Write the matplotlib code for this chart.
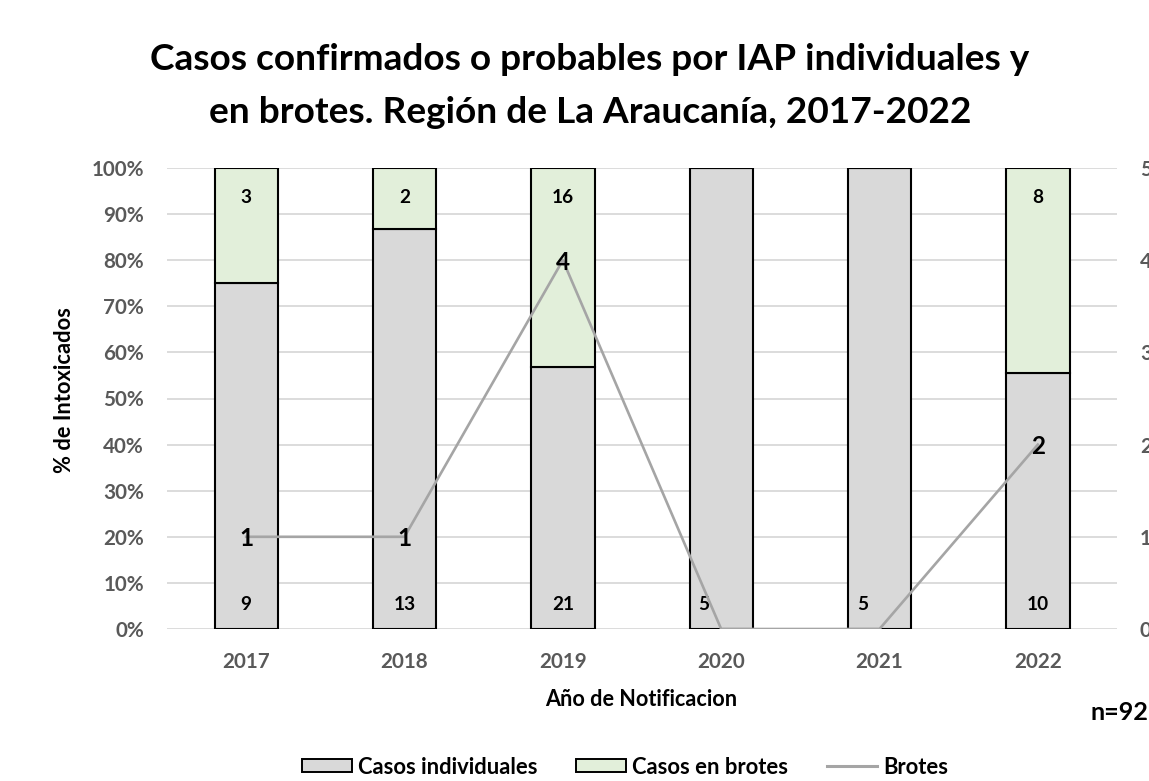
import matplotlib
matplotlib.use("Agg")
import matplotlib.pyplot as plt
from matplotlib.patches import Patch
from matplotlib.lines import Line2D
import numpy as np

years = ["2017", "2018", "2019", "2020", "2021", "2022"]
individuales = [9, 13, 21, 5, 5, 10]
en_brotes = [3, 2, 16, 0, 0, 8]
brotes = [1, 1, 4, 0, 0, 2]
title_lines = ["Casos confirmados o probables por IAP individuales y",
               "en brotes. Región de La Araucanía, 2017-2022"]

FONT = "Lato"
plt.rcParams["font.family"] = [FONT, "DejaVu Sans"]

W, H = 1149, 781
DPI = 100
PT = 72.0 / DPI  # points per pixel
fig = plt.figure(figsize=(W / DPI, H / DPI), dpi=DPI)
renderer = fig.canvas.get_renderer()


def width_px(s, size, weight="bold"):
    t = fig.text(0, 0, s, fontsize=size, fontweight=weight)
    w = t.get_window_extent(renderer).width
    t.remove()
    return w


def fit(s, target, weight="bold"):
    return 20.0 * target / width_px(s, 20.0, weight)


fs_ytick = fit("100%", 53)
fs_xtick = fit("2017", 48)
fs_bar = fit("13", 22)
fs_line = 17.5
fs_n = fit("n=92", 58)
fs_ylab = fit("% de Intoxicados", 166)
fs_xlab = fit("Año de Notificacion", 192)
fs_leg = fit("Casos individuales", 180)
fs_title = fit(title_lines[0], 878)
title_cx = 590

ax = fig.add_axes([167 / W, 152 / H, 950 / W, 461 / H])

ind = np.array(individuales, float)
br = np.array(en_brotes, float)
tot = ind + br
p_ind = ind / tot * 100
p_br = br / tot * 100
x = np.arange(len(years))

c_ind = "#d9d9d9"
c_br = "#e2efda"
c_line = "#a5a5a5"
tick_col = "#595959"

ax.bar(x, p_ind, width=0.4, color=c_ind, edgecolor="black", linewidth=1.5, zorder=2)
ax.bar(x, p_br, width=0.4, bottom=p_ind, color=c_br, edgecolor="black", linewidth=1.5, zorder=2)

ax.set_xlim(-0.5, len(years) - 0.5)
ax.set_ylim(0, 100)
ax.set_yticks(np.arange(0, 101, 10))
ax.set_yticklabels([f"{v}%" for v in range(0, 101, 10)])
ax.set_xticks(x)
ax.set_xticklabels(years)
ax.grid(axis="y", color="#d9d9d9", linewidth=1.3, zorder=0)
ax.set_axisbelow(True)
for s in ax.spines.values():
    s.set_visible(False)
ax.tick_params(axis="y", length=0, labelsize=fs_ytick, labelcolor=tick_col, pad=23 * PT)
ax.tick_params(axis="x", length=0, labelsize=fs_xtick, labelcolor=tick_col, pad=39 * PT)
for lab in ax.get_xticklabels():
    lab.set_fontweight("bold")
    lab.set_verticalalignment("baseline")
for lab in ax.get_yticklabels():
    lab.set_fontweight("bold")

ax.set_ylabel("% de Intoxicados", fontsize=fs_ylab, fontweight="bold")
ax.yaxis.set_label_coords(64.5 / W, 0.5, transform=fig.transFigure)
ax.yaxis.label.set_verticalalignment("center")
ax.set_xlabel("Año de Notificacion", fontsize=fs_xlab, fontweight="bold")
ax.xaxis.set_label_coords(641 / W, 1 - 699 / H, transform=fig.transFigure)
ax.xaxis.label.set_verticalalignment("center")

# bar labels
for i in range(len(years)):
    dx = -17 if brotes[i] == 0 else 0
    ax.annotate(str(individuales[i]), (x[i], 0), xytext=(dx * PT, 26 * PT), textcoords="offset points",
                ha="center", va="center_baseline", fontsize=fs_bar, fontweight="bold", zorder=5)
    if en_brotes[i] > 0:
        ax.annotate(str(en_brotes[i]), (x[i], 100), xytext=(0, -28 * PT), textcoords="offset points",
                    ha="center", va="center_baseline", fontsize=fs_bar, fontweight="bold", zorder=5)

ax2 = ax.twinx()
ax2.plot(x, brotes, color=c_line, linewidth=1.9, zorder=3)
ax2.set_ylim(0, 5)
ax2.set_yticks(range(0, 6))
for s in ax2.spines.values():
    s.set_visible(False)
ax2.tick_params(length=0, labelsize=fs_ytick, labelcolor=tick_col, pad=23 * PT)
for lab in ax2.get_yticklabels():
    lab.set_fontweight("bold")
for i, v in enumerate(brotes):
    if v > 0:
        ax2.annotate(str(v), (x[i], v), ha="center", va="center_baseline", fontsize=fs_line,
                     fontweight="bold", zorder=6)

# title
fig.text(title_cx / W, 1 - 70 / H, title_lines[0], ha="center", va="baseline",
         fontsize=fs_title, fontweight="bold")
fig.text(title_cx / W, 1 - 123 / H, title_lines[1], ha="center", va="baseline",
         fontsize=fs_title, fontweight="bold")

fig.text(1119 / W, 1 - 711 / H, "n=92", ha="center", va="center_baseline", fontsize=fs_n,
         fontweight="bold")

leg_px = fs_leg / PT
handles = [Patch(facecolor=c_ind, edgecolor="black", linewidth=1.4, label="Casos individuales"),
           Patch(facecolor=c_br, edgecolor="black", linewidth=1.4, label="Casos en brotes"),
           Line2D([0], [0], color=c_line, linewidth=2.2, label="Brotes")]
leg = fig.legend(handles=handles, loc="center", bbox_to_anchor=(625 / W, 1 - 767 / H), ncol=3,
                 frameon=False, prop={"weight": "bold", "size": fs_leg},
                 handlelength=50 / leg_px, handleheight=12 / leg_px,
                 handletextpad=6 / leg_px, columnspacing=39 / leg_px,
                 borderpad=0, borderaxespad=0)

fig.savefig("out.png", dpi=DPI)
